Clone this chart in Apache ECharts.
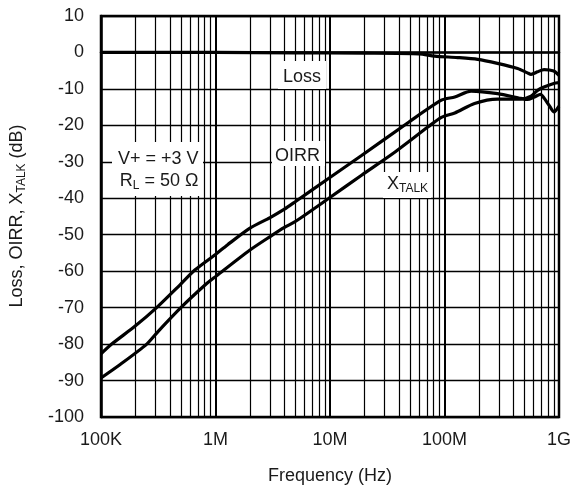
<!DOCTYPE html>
<html><head><meta charset="utf-8">
<script src="https://cdn.jsdelivr.net/npm/echarts@6/dist/echarts.min.js"></script>
<style>html,body{margin:0;padding:0;background:#fff}#c{width:574px;height:491px}</style>
</head><body><div id="c"></div>
<script>
// ---- data (frequency in Hz, level in dB) ----
var lossFreq = [1e5, 1e6, 5e6, 2e7, 6e7, 8.2e7, 1.3e8, 1.95e8, 2.9e8, 4.35e8, 5.3e8, 5.7e8, 6.5e8, 7.4e8, 9e8, 1e9];
var lossDb   = [0, 0, -0.1, -0.2, -0.4, -1.0, -1.4, -1.9, -3.0, -4.4, -5.6, -6.0, -5.3, -4.7, -5.1, -6.3];

var oirrFreq = [1e5, 1.24e5, 2e5, 3.06e5, 4.88e5, 6.6e5, 1e6, 1.27e6, 2e6, 3e6, 4e6, 5e6, 9.77e6, 1.9e7, 4.83e7, 9.4e7, 1.23e8, 1.71e8, 2.91e8, 4.64e8, 5.3e8, 6.1e8, 6.9e8, 7.4e8, 8.2e8, 9.05e8, 1e9];
var oirrDb   = [-82.7, -80, -75, -70, -63.8, -59.7, -55.4, -52.8, -48.2, -45.3, -43.0, -40.9, -34.5, -28.2, -19.2, -13.1, -12.2, -10.6, -11.3, -12.6, -12.9, -12.2, -11.5, -12.5, -14.5, -16.3, -14.7];

var xtalkFreq = [1e5, 1.47e5, 2.51e5, 3.16e5, 4.98e5, 8.1e5, 1e6, 2e6, 3e6, 4e6, 5.02e6, 9.77e6, 1.9e7, 3.7e7, 7.2e7, 9.4e7, 1.23e8, 1.83e8, 2.9e8, 4.64e8, 5.7e8, 6.5e8, 7.4e8, 9e8, 1e9];
var xtalkDb   = [-89.3, -85.6, -80, -76.5, -70, -63.8, -61.5, -54.2, -50.5, -48, -46.3, -40, -33.6, -27.3, -20.4, -17.8, -16.6, -14, -12.8, -12.8, -12, -10.4, -9.5, -8.5, -8.3];

var xTickLabels = ['100K', '1M', '10M', '100M', '1G'];
var yMin = -100, yMax = 10, yStep = 10;

// ---- helpers ----
function pairs(f, d) { return f.map(function (v, i) { return [v, d[i]]; }); }
var FONT = "'Liberation Sans', Arial, Helvetica, sans-serif";
var minorLines = [];
for (var k = 5; k < 9; k++) {
  for (var m = 2; m <= 9; m++) minorLines.push({ xAxis: m * Math.pow(10, k) });
}
var subRich = {
  a: { font: '18px ' + FONT, fill: '#1a1a1a', lineHeight: 22 },
  b: { font: '12px ' + FONT, fill: '#1a1a1a', lineHeight: 22, padding: [10, 0, 0, 0] }
};

var chart = echarts.init(document.getElementById('c'), null, { renderer: 'canvas' });
var curveStyle = { color: '#000', width: 3.2 };
chart.setOption({
  animation: false,
  backgroundColor: '#fff',
  grid: { left: 101, right: 12, top: 16, bottom: 74, show: true, borderColor: '#000', borderWidth: 2.5, backgroundColor: 'transparent' },
  xAxis: {
    type: 'log', logBase: 10, min: 1e5, max: 1e9,
    name: 'Frequency (Hz)', nameLocation: 'middle', nameGap: 50,
    nameTextStyle: { fontFamily: FONT, fontSize: 18, color: '#1a1a1a' },
    axisLine: { show: true, lineStyle: { color: '#000', width: 2.5 } },
    axisTick: { show: false },
    axisLabel: {
      fontFamily: FONT, fontSize: 18, color: '#1a1a1a', margin: 14,
      formatter: function (v) { var i = Math.round(Math.log10(v)) - 5; return xTickLabels[i] || ''; }
    },
    splitLine: { show: true, lineStyle: { color: '#000', width: 2 } }
  },
  yAxis: {
    type: 'value', min: yMin, max: yMax, interval: yStep,
    axisLine: { show: true, lineStyle: { color: '#000', width: 2.5 } },
    axisTick: { show: false },
    axisLabel: { fontFamily: FONT, fontSize: 18, color: '#1a1a1a', margin: 17 },
    splitLine: { show: true, lineStyle: { color: '#000', width: 1.3 } }
  },
  series: [
    {
      name: 'grid', type: 'line', data: [], z: 1, silent: true,
      markLine: { silent: true, symbol: ['none', 'none'], label: { show: false },
        lineStyle: { color: '#000', width: 1.2, type: 'solid' }, data: minorLines, animation: false }
    },
    { name: 'Loss', type: 'line', data: pairs(lossFreq, lossDb), showSymbol: false, smooth: 0.25, lineStyle: curveStyle, itemStyle: { color: '#000' }, z: 3 },
    { name: 'OIRR', type: 'line', data: pairs(oirrFreq, oirrDb), showSymbol: false, smooth: 0.25, lineStyle: curveStyle, itemStyle: { color: '#000' }, z: 3 },
    { name: 'XTALK', type: 'line', data: pairs(xtalkFreq, xtalkDb), showSymbol: false, smooth: 0.25, lineStyle: curveStyle, itemStyle: { color: '#000' }, z: 3 }
  ],
  graphic: [
    { type: 'text', x: 17, y: 216, rotation: Math.PI / 2,
      style: { text: '{a|Loss, OIRR, X}{b|TALK}{a| (dB)}', fill: '#1a1a1a', align: 'center', verticalAlign: 'middle', rich: subRich }, z: 11 },
    { type: 'rect', shape: { x: 278, y: 61, width: 48, height: 28 }, style: { fill: '#fff' }, z: 10 },
    { type: 'text', x: 302, y: 77, style: { text: 'Loss', font: '18px ' + FONT, fill: '#1a1a1a', align: 'center', verticalAlign: 'middle' }, z: 11 },
    { type: 'rect', shape: { x: 272, y: 141, width: 53, height: 25 }, style: { fill: '#fff' }, z: 10 },
    { type: 'text', x: 297.5, y: 156, style: { text: 'OIRR', font: '18px ' + FONT, fill: '#1a1a1a', align: 'center', verticalAlign: 'middle' }, z: 11 },
    { type: 'rect', shape: { x: 383, y: 172, width: 48, height: 26 }, style: { fill: '#fff' }, z: 10 },
    { type: 'text', x: 387, y: 184, style: { text: '{a|X}{b|TALK}', fill: '#1a1a1a', align: 'left', verticalAlign: 'middle', rich: subRich }, z: 11 },
    { type: 'rect', shape: { x: 112, y: 142, width: 91, height: 54 }, style: { fill: '#fff' }, z: 10 },
    { type: 'text', x: 198.5, y: 159, style: { text: 'V+ = +3 V', font: '18px ' + FONT, fill: '#1a1a1a', align: 'right', verticalAlign: 'middle' }, z: 11 },
    { type: 'text', x: 198.5, y: 181, style: { text: '{a|R}{b|L}{a| = 50 Ω}', fill: '#1a1a1a', align: 'right', verticalAlign: 'middle', rich: subRich }, z: 11 }
  ]
});
</script>
</body></html>
